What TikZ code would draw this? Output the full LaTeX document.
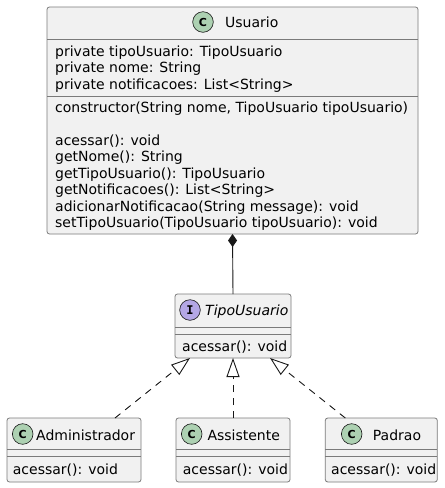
\documentclass[tikz,border=0pt]{standalone}
\usepackage{fontspec}
\setmainfont{DejaVu Sans}
\newfontfamily\monofam{DejaVu Sans Mono}
\usetikzlibrary{arrows.meta}
\definecolor{boxfill}{HTML}{F1F1F1}
\definecolor{bord}{HTML}{181818}
\definecolor{gbord}{HTML}{7A7A7A}
\definecolor{cgreen}{HTML}{ADD1B2}
\definecolor{ipurple}{HTML}{B4A7E5}
\tikzset{
  umlbox/.style={draw=gbord, fill=boxfill, line width=0.8pt, rounded corners=2.5pt,
    inner sep=0pt, outer sep=0pt, anchor=north west},
  sepline/.style={draw=gbord, line width=0.8pt},
  txt/.style={anchor=base west, inner sep=0pt, font=\fontsize{14}{16}\selectfont},
  badge/.style={circle, draw=bord, line width=0.6pt, minimum size=20.6pt, inner sep=0pt},
  cbadge/.style={badge, fill=cgreen, font=\fontsize{11}{11}\selectfont\bfseries},
  ibadge/.style={badge, fill=ipurple, font=\fontsize{12}{12}\selectfont\monofam\bfseries},
  comp/.style={draw=bord, line width=0.9pt, -{Diamond[length=13pt, width=9pt, fill=bord]}},
  real/.style={draw=bord, line width=0.9pt, dash pattern=on 7pt off 6pt,
    -{Triangle[open, length=19pt, width=13pt, fill=white]}},
}
\begin{document}
\begin{tikzpicture}[x=1pt, y=-1pt]
\useasboundingbox[fill=white] (0,0) rectangle (445,488);

% Usuario
\node[umlbox, minimum width=371pt, minimum height=227pt] (usuario) at (47,7) {};
\draw[sepline] (47,39) -- (418,39);
\draw[sepline] (47,96) -- (418,96);
\node[cbadge] (uc) at (203,22) {C};
\node[txt] (un) at (225,27.5) {Usuario};
\node[txt] (ua1) at (55,56) {private tipoUsuario: TipoUsuario};
\node[txt] (ua2) at (55,72.5) {private nome: String};
\node[txt] (ua3) at (55,89) {private notificacoes: List<String>};
\node[txt] (um0) at (55,112.5) {constructor(String nome, TipoUsuario tipoUsuario)};
\node[txt] (um1) at (55,145) {acessar(): void};
\node[txt] (um2) at (55,161.5) {getNome(): String};
\node[txt] (um3) at (55,178) {getTipoUsuario(): TipoUsuario};
\node[txt] (um4) at (55,194.5) {getNotificacoes(): List<String>};
\node[txt] (um5) at (55,211) {adicionarNotificacao(String message): void};
\node[txt] (um6) at (55,227.5) {setTipoUsuario(TipoUsuario tipoUsuario): void};

% TipoUsuario
\node[umlbox, minimum width=116pt, minimum height=64pt] (tipo) at (175,294) {};
\draw[sepline] (175,327.5) -- (291,327.5);
\draw[sepline] (175,334.5) -- (291,334.5);
\node[ibadge] (ti) at (190,310) {I};
\node[txt, font=\fontsize{14}{16}\selectfont\itshape] (tn) at (205,315) {TipoUsuario};
\node[txt] (tm) at (182,351) {acessar(): void};

% Administrador
\node[umlbox, minimum width=134pt, minimum height=64pt] (admin) at (7,418) {};
\draw[sepline] (7,449) -- (141,449);
\draw[sepline] (7,456) -- (141,456);
\node[cbadge] (ac) at (22.7,434) {C};
\node[txt] (an) at (36,440) {Administrador};
\node[txt] (am) at (12.7,474) {acessar(): void};

% Assistente
\node[umlbox, minimum width=114pt, minimum height=64pt] (assist) at (176,418) {};
\draw[sepline] (176,449) -- (290,449);
\draw[sepline] (176,456) -- (290,456);
\node[cbadge] (sc) at (191.7,434) {C};
\node[txt] (sn) at (207.3,440) {Assistente};
\node[txt] (sm) at (182.7,474) {acessar(): void};

% Padrao
\node[umlbox, minimum width=112pt, minimum height=64pt] (padrao) at (325.3,418) {};
\draw[sepline] (325.3,449) -- (437.3,449);
\draw[sepline] (325.3,456) -- (437.3,456);
\node[cbadge] (pc) at (351.7,434) {C};
\node[txt] (pn) at (372.7,440) {Padrao};
\node[txt] (pm) at (331,474) {acessar(): void};

% connectors
\draw[comp] (tipo.north) -- (usuario.south);
\draw[real] ([xshift=41pt]admin.north) -- ([xshift=-43pt]tipo.south);
\draw[real] (assist.north) -- (tipo.south);
\draw[real] ([xshift=-36pt]padrao.north) -- ([xshift=37pt]tipo.south);
\end{tikzpicture}
\end{document}
